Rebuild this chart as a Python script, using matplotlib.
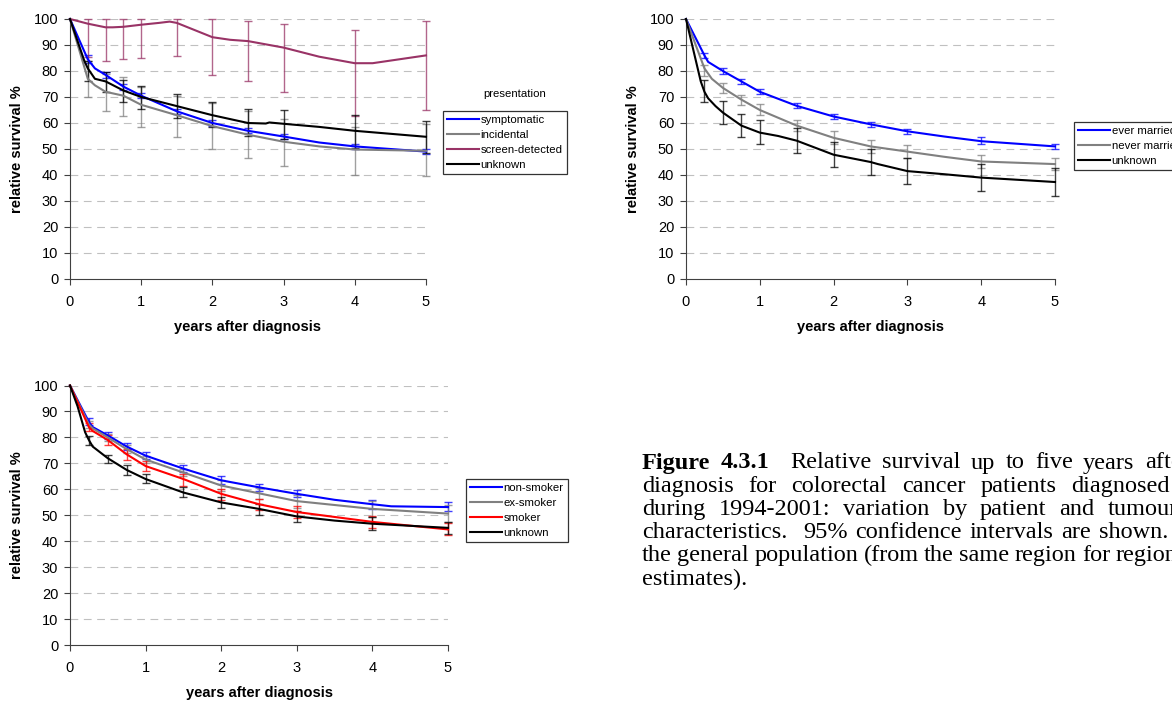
import matplotlib.pyplot as plt
from matplotlib.text import Annotation

plt.rcParams['font.family'] = ['Liberation Sans', 'DejaVu Sans']

# CI time points (same for every series)
ci_t = [0.25, 0.5, 0.75, 1, 1.5, 2, 2.5, 3, 4, 5]

# Panel 1: presentation
sym_t = [0, 0.25, 0.35, 0.5, 0.75, 1, 1.5, 2, 2.5, 3, 3.5, 4, 5]
sym_v = [100, 84.5, 81, 78.5, 74, 70.5, 64.5, 60, 57, 54.8, 52.5, 51, 49]
sym_lo = [83, 77.3, 72.8, 69.5, 63.5, 59, 56, 53.8, 50, 48]
sym_hi = [86, 79.5, 75, 71.5, 65.5, 61, 58, 55.8, 52, 50]

inc_t = [0, 0.25, 0.35, 0.5, 0.75, 1, 1.5, 2, 2.5, 3, 3.5, 4, 5]
inc_v = [100, 77, 74.5, 72, 70.5, 67, 63, 58.8, 55.5, 52.8, 51, 49.8, 49.3]
inc_lo = [70, 64.5, 62.5, 58.5, 54.5, 50, 46.5, 43.5, 40, 39.8]
inc_hi = [84, 79, 77.5, 74, 70.5, 67.5, 64.5, 61.5, 58.5, 59.5]

scr_t = [0, 0.25, 0.5, 0.6, 0.75, 1, 1.25, 1.4, 1.5, 2, 2.25, 2.5, 3, 3.5, 4, 4.25, 5]
scr_v = [100, 98.2, 96.8, 96.8, 97, 97.8, 98.5, 99, 98.5, 93, 92, 91.5, 89, 85.5, 83, 83, 86]
scr_lo = [85.3, 84, 84.5, 85, 85.8, 78.5, 76, 72, 62.5, 65]
scr_hi = [100, 100, 100, 100, 100, 100, 99.3, 98.2, 95.8, 99.2]

unk1_t = [0, 0.2, 0.25, 0.35, 0.5, 0.75, 1, 1.5, 2, 2.5, 2.75, 2.8, 3, 3.5, 4, 5]
unk1_v = [100, 84, 81, 77, 76, 72.5, 70, 66.5, 63, 60, 59.8, 60.2, 59.7, 58.5, 57, 54.7]
unk1_lo = [76, 72, 68, 65.5, 62, 58.5, 55, 54, 50.5, 48.5]
unk1_hi = [84, 79.5, 76.5, 74.3, 71, 68, 65.3, 65, 63, 60.8]

# Panel 2: marital status
evr_t = [0, 0.25, 0.3, 0.5, 0.75, 1, 1.5, 2, 2.5, 3, 3.5, 4, 5]
evr_v = [100, 86, 83.5, 80, 76, 72, 66.6, 62.5, 59.5, 56.8, 54.8, 53, 51]
evr_lo = [85, 79, 75, 71, 65.6, 61.5, 58.5, 55.8, 52, 50]
evr_hi = [87, 81, 77, 73, 67.6, 63.5, 60.5, 57.8, 54.5, 52]

nev_t = [0, 0.25, 0.35, 0.5, 0.75, 1, 1.5, 2, 2.5, 3, 3.5, 4, 5]
nev_v = [100, 81, 77, 73.5, 69, 65, 59, 54.3, 51, 49, 47, 45.2, 44.2]
nev_lo = [78, 71.5, 67, 63, 57, 52, 48.5, 46.5, 42.7, 41.8]
nev_hi = [82.3, 75.3, 70.8, 67.2, 61, 56.8, 53.5, 51.5, 47.7, 46.5]

unk2_t = [0, 0.1, 0.2, 0.25, 0.3, 0.4, 0.5, 0.75, 1, 1.25, 1.5, 2, 2.5, 2.6, 3, 3.5, 4, 5]
unk2_v = [100, 88, 76, 72, 69.5, 66.5, 64, 59, 56.3, 55, 53.2, 47.8, 45, 44.2, 41.5, 40.3, 39, 37.3]
unk2_lo = [68, 59.5, 54.5, 51.8, 48.3, 43, 40, 36.5, 34, 32]
unk2_hi = [76.5, 68.6, 63.4, 61, 58, 52.6, 50, 46.5, 44.2, 42.8]

# Panel 3: smoking
non_t = [0, 0.25, 0.3, 0.5, 0.75, 1, 1.5, 2, 2.5, 3, 3.5, 4, 4.25, 5]
non_v = [100, 86, 84, 80.8, 76.5, 73, 68, 63.5, 60.8, 58.3, 56, 54.3, 53.5, 53.2]
non_lo = [84.7, 79.5, 75.3, 71.8, 66.8, 62.2, 59.5, 57, 52.5, 51.8]
non_hi = [87.3, 82, 77.7, 74.3, 69.3, 65, 62.2, 59.8, 56, 55]

exs_t = [0, 0.25, 0.3, 0.5, 0.75, 1, 1.5, 2, 2.5, 3, 4, 5]
exs_v = [100, 85, 83.5, 80, 75.5, 71.5, 66.5, 61.5, 58.5, 55.5, 52.5, 50.7]
exs_lo = [83.5, 78.5, 74, 70, 65, 59.5, 56.5, 53, 49.5, 47.5]
exs_hi = [86.5, 81.5, 77, 73, 68, 63.5, 60.5, 58, 55.5, 54]

smk_t = [0, 0.25, 0.3, 0.5, 0.75, 1, 1.5, 2, 2.5, 3, 4, 5]
smk_v = [100, 84, 82.5, 79, 73.5, 69, 64, 58.3, 54.3, 51.3, 47.5, 44.6]
smk_lo = [82.5, 77, 71.5, 67, 61.5, 56, 52, 49, 45, 42.5]
smk_hi = [85.5, 81, 75.5, 71, 66, 60, 56.3, 53.6, 49.7, 47]

unk3_t = [0, 0.1, 0.2, 0.25, 0.3, 0.5, 0.75, 1, 1.5, 2, 2.5, 3, 3.5, 4, 5]
unk3_v = [100, 92, 82, 79, 76.5, 72, 67.5, 64, 58.8, 55, 52.5, 49.6, 48, 46.8, 45.2]
unk3_lo = [77, 70.3, 65.6, 62.3, 57, 53, 50.3, 47.6, 44.5, 42.8]
unk3_hi = [80.5, 73.3, 69.3, 66, 61, 57, 54.3, 51.8, 49.5, 47.5]

# Caption lines (justified text, runs off the right edge of the page crop)
caption_lines = [
    'Figure 4.3.1  Relative survival up to five years after',
    'diagnosis for colorectal cancer patients diagnosed in',
    'during 1994-2001: variation by patient and tumour',
    'characteristics.  95% confidence intervals are shown.  Survival is relative to',
    'the general population (from the same region for regional',
    'estimates).',
]
caption_space_pt = [7.5, 10.7, 9.4, 5.6, 3.9, 4.4]

BLUE, GREY, PLUM, RED, BLACK = '#0000ff', '#808080', '#993366', '#ff0000', '#000000'

W, H = 1172, 702
fig = plt.figure(figsize=(W / 100, H / 100), dpi=100)


def panel(left, top, right, bottom, series):
    w, h = right - left, bottom - top
    ax = fig.add_axes([left / W, 1 - bottom / H, w / W, h / H])
    for t, v, lo, hi, col, lab in series:
        ax.plot(t, v, color=col, lw=1.5, label=lab, zorder=3, clip_on=False)
        mid = [(a + b) / 2 for a, b in zip(lo, hi)]
        half = [(b - a) / 2 for a, b in zip(lo, hi)]
        ax.errorbar(ci_t, mid, yerr=half, fmt='none', ecolor=col, elinewidth=1.0,
                    capsize=3, capthick=1.0, alpha=0.75, zorder=2, clip_on=False)
    ax.set_xlim(0, 5)
    ax.set_ylim(0, 100)
    ax.set_xticks(range(6))
    ax.set_yticks(range(0, 101, 10))
    for y in range(10, 101, 10):
        ax.axhline(y, color='#c0c0c0', lw=0.8, ls=(0, (7, 5)), zorder=1)
    for s in ['top', 'right']:
        ax.spines[s].set_visible(False)
    for s in ['left', 'bottom']:
        ax.spines[s].set_color('#404040')
    ax.tick_params(direction='out', length=4, labelsize=10.5, colors='#404040',
                   labelcolor='black')
    ax.tick_params(axis='x', pad=7.5)
    ax.tick_params(axis='y', pad=4.5)
    ax.set_ylabel('relative survival %', fontsize=10.5, fontweight='bold')
    ax.set_xlabel('years after diagnosis', fontsize=10.5, fontweight='bold')
    ax.yaxis.set_label_coords(-46 / w, 0.5)
    ax.xaxis.set_label_coords(0.5, -41 / h)
    return ax


def legend(ax, x_px, y_px):
    leg = ax.legend(loc='upper left', bbox_to_anchor=(x_px / W, 1 - y_px / H),
                    bbox_transform=fig.transFigure, fontsize=8.2, frameon=True,
                    fancybox=False, edgecolor='black', handlelength=2.8,
                    handletextpad=0.15, labelspacing=0.45, borderaxespad=0,
                    borderpad=0.35)
    leg.get_frame().set_linewidth(0.9)
    return leg


ax1 = panel(70, 19, 426, 279, [
    (sym_t, sym_v, sym_lo, sym_hi, BLUE, 'symptomatic'),
    (inc_t, inc_v, inc_lo, inc_hi, GREY, 'incidental'),
    (scr_t, scr_v, scr_lo, scr_hi, PLUM, 'screen-detected'),
    (unk1_t, unk1_v, unk1_lo, unk1_hi, BLACK, 'unknown'),
])
legend(ax1, 443, 111)
fig.text(515 / W, 1 - 94 / H, 'presentation', fontsize=8.2, ha='center', va='center')

ax2 = panel(686, 19, 1055, 279, [
    (evr_t, evr_v, evr_lo, evr_hi, BLUE, 'ever married'),
    (nev_t, nev_v, nev_lo, nev_hi, GREY, 'never married'),
    (unk2_t, unk2_v, unk2_lo, unk2_hi, BLACK, 'unknown'),
])
legend(ax2, 1074, 122)

ax3 = panel(70, 385.5, 448, 645.3, [
    (non_t, non_v, non_lo, non_hi, BLUE, 'non-smoker'),
    (exs_t, exs_v, exs_lo, exs_hi, GREY, 'ex-smoker'),
    (smk_t, smk_v, smk_lo, smk_hi, RED, 'smoker'),
    (unk3_t, unk3_v, unk3_lo, unk3_hi, BLACK, 'unknown'),
])
legend(ax3, 466, 479)

# Caption: words chained one after another so the spacing can be stretched
serif = ['Liberation Serif', 'DejaVu Serif']
cx, cy, step = 642 / W, 1 - 463 / H, 23.2 / H
for i, (line, sp) in enumerate(zip(caption_lines, caption_space_pt)):
    words = line.split(' ')
    y = cy - i * step
    bold_n = 2 if i == 0 else 0
    prev = fig.text(cx, y, words[0], fontsize=17.5, family=serif, va='center',
                    fontweight='bold' if bold_n else 'normal')
    gaps = 1
    for k, wd in enumerate(words[1:], start=1):
        if wd == '':
            gaps += 1
            continue
        prev = fig.add_artist(Annotation(
            wd, xy=(1, 0.5), xycoords=prev, xytext=(sp * gaps, 0),
            textcoords='offset points', va='center', ha='left', fontsize=17.5,
            family=serif, fontweight='bold' if k < bold_n else 'normal'))
        gaps = 1

plt.savefig('out.png', dpi=100)
plt.close()
